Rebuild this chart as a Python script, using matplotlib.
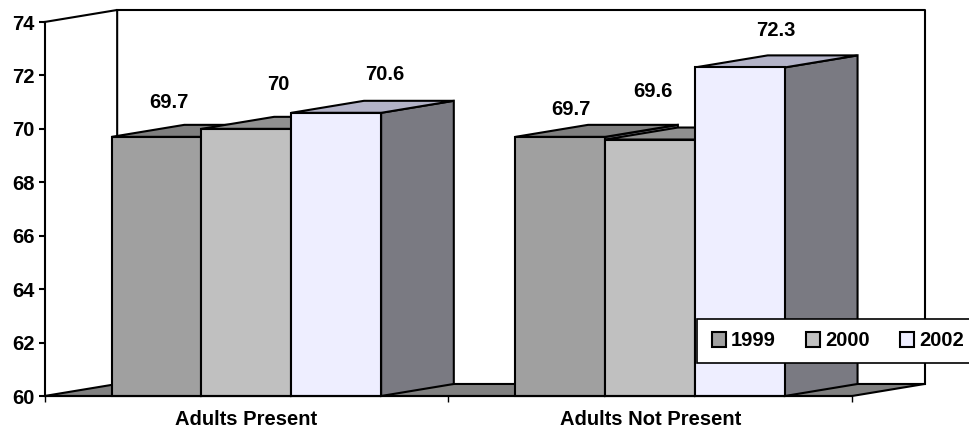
import matplotlib
matplotlib.use("Agg")
import matplotlib.pyplot as plt
from matplotlib.patches import Patch, Polygon, Rectangle

plt.rcParams['font.family'] = ['Liberation Sans', 'DejaVu Sans']
plt.rcParams['font.weight'] = 'bold'
plt.rcParams['font.size'] = 14.5

categories = ["Adults Present", "Adults Not Present"]
years = ["1999", "2000", "2002"]
values_1999 = [69.7, 69.7]
values_2000 = [70, 69.6]
values_2002 = [70.6, 72.3]
value_labels = [["69.7", "69.7"], ["70", "69.6"], ["70.6", "72.3"]]
y_ticks = [60, 62, 64, 66, 68, 70, 72, 74]

series = [values_1999, values_2000, values_2002]
front_colors = ["#a0a0a0", "#c0c0c0", "#eeeeff"]
top_colors = ["#7f7f7f", "#909090", "#b3b3c8"]
side_color = "#7a7a82"
floor_color = "#808080"
LW = 1.5

# label offsets from the front top centre of each bar, in pixels
label_dx = [[12, 11], [32, 3], [49, 36]]
label_dy = [[34, 27], [44, 48], [38, 37]]

W, H = 969, 432
fig = plt.figure(figsize=(W / 100, H / 100), dpi=100)
ax = fig.add_axes([44.5 / W, 1 - 396 / H, (852 - 44.5) / W, (396 - 22) / H])
ax.set_xlim(0, 2)
ax.set_ylim(60, 74)
ax.patch.set_visible(False)

# 3d depth of the box, in data units
dx = 0.18
dy = 0.45
bar_w = 0.2225

for name in ['top', 'right']:
    ax.spines[name].set_visible(False)
for name in ['left', 'bottom']:
    ax.spines[name].set_linewidth(LW)
    ax.spines[name].set_zorder(60)

# floor
ax.add_patch(Polygon([(0, 60), (2, 60), (2 + dx, 60 + dy), (dx, 60 + dy)], closed=True,
                     fc=floor_color, ec='black', lw=LW, zorder=1, clip_on=False))

# back walls
ax.plot([0, dx, dx], [74, 74 + dy, 60 + dy], color='black', lw=LW, zorder=1.5, clip_on=False)
ax.plot([dx, 2 + dx, 2 + dx], [74 + dy, 74 + dy, 60 + dy], color='black', lw=LW, zorder=1.5, clip_on=False)

z = 2
for c in range(len(categories)):
    for s, vals in enumerate(series):
        v = vals[c]
        left = c + 0.5 + (s - 1.5) * bar_w
        right = left + bar_w
        # side face
        ax.add_patch(Polygon([(right, 60), (right + dx, 60 + dy), (right + dx, v + dy), (right, v)],
                             closed=True, fc=side_color, ec='black', lw=LW, zorder=z, clip_on=False))
        # top face
        ax.add_patch(Polygon([(left, v), (right, v), (right + dx, v + dy), (left + dx, v + dy)],
                             closed=True, fc=top_colors[s], ec='black', lw=LW, zorder=z + 0.1, clip_on=False))
        # front face
        ax.bar(left, v - 60, bottom=60, width=bar_w, align='edge', color=front_colors[s],
               edgecolor='black', linewidth=LW, zorder=z + 0.2, clip_on=False)
        ax.annotate(value_labels[s][c], xy=(left + bar_w / 2, v),
                    xytext=(label_dx[s][c] * 0.72, label_dy[s][c] * 0.72), textcoords='offset points',
                    ha='center', va='center', zorder=50, annotation_clip=False)
        z += 1

ax.set_yticks(y_ticks)
ax.set_xticks([0, 1, 2])
ax.set_xticklabels([])
ax.set_xticks([0.5, 1.5], minor=True)
ax.set_xticklabels(categories, minor=True)
ax.tick_params(axis='x', which='major', length=4, width=1.0, direction='out')
ax.tick_params(axis='x', which='minor', length=0, pad=10)
ax.tick_params(axis='y', length=4, width=1.5, pad=3)

# legend strip, runs off the right edge of the figure
ax.add_patch(Rectangle((697 / W, 1 - 363 / H), 280 / W, 44 / H, transform=fig.transFigure,
                       fc='white', ec='black', lw=1.2, zorder=55, clip_on=False))
handles = [Patch(fc=front_colors[i], ec='black', lw=1.5, label=years[i]) for i in range(3)]
leg = ax.legend(handles=handles, ncols=3, loc='center left', bbox_to_anchor=(712 / W, 1 - 341 / H),
                bbox_transform=fig.transFigure, frameon=False, borderaxespad=0, borderpad=0,
                handlelength=0.7, handleheight=0.7, handletextpad=0.25, columnspacing=1.5)
leg.set_zorder(56)

fig.savefig("out.png", dpi=100)
